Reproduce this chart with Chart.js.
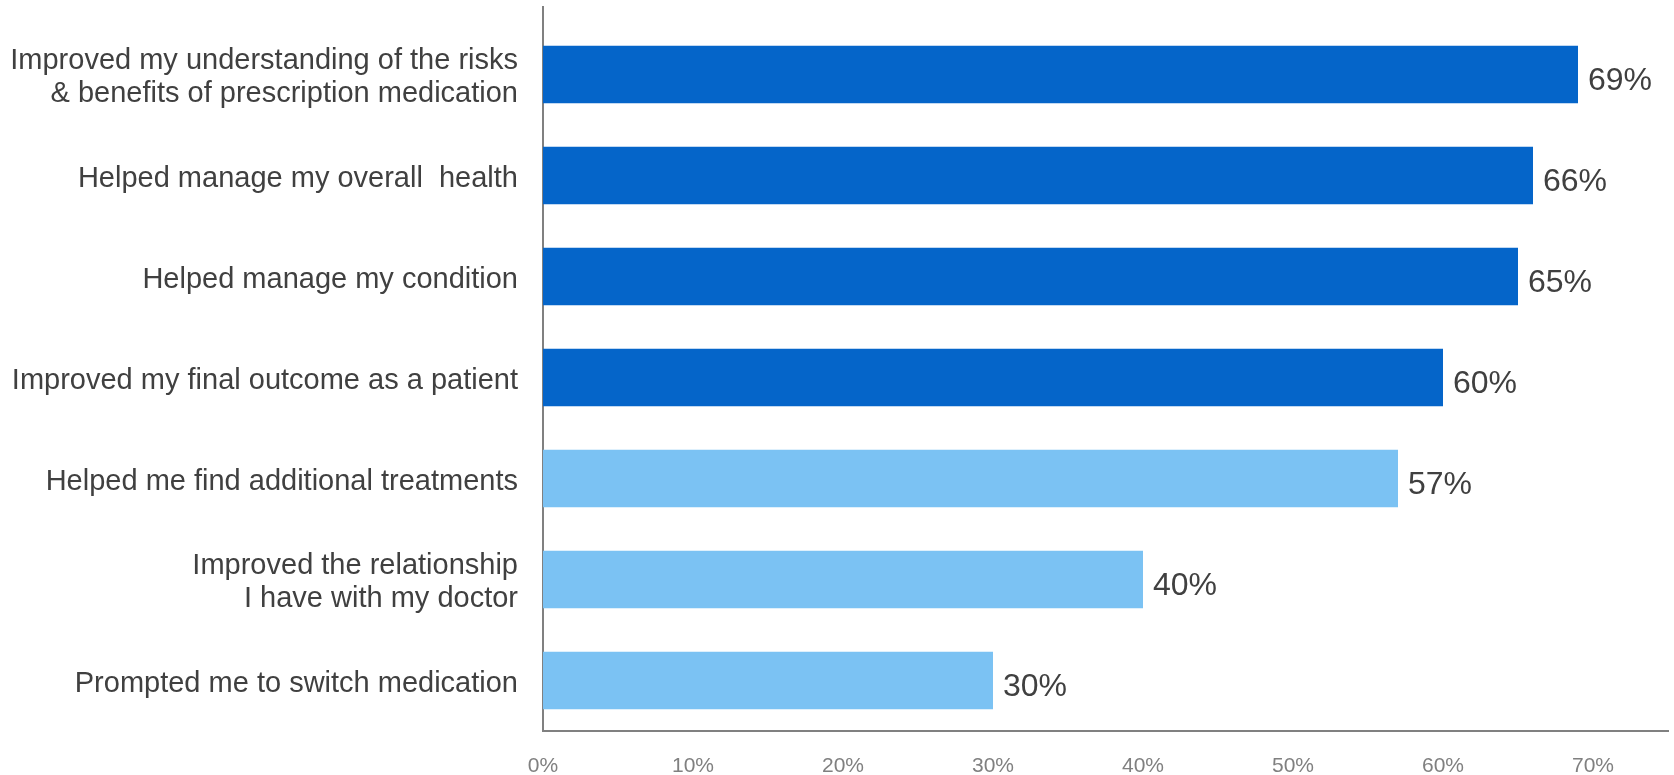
<!DOCTYPE html>
<html>
<head>
<meta charset="utf-8">
<script src="https://cdn.jsdelivr.net/npm/chart.js@4"></script>
<style>
  html, body { margin: 0; padding: 0; background: #ffffff; }
  #wrap { width: 1674px; height: 775px; position: relative; }
</style>
</head>
<body>
<div id="wrap"><canvas id="c"></canvas></div>
<script>
const categories = [
  ["Improved my understanding of the risks", "& benefits of prescription medication"],
  "Helped manage my overall  health",
  "Helped manage my condition",
  "Improved my final outcome as a patient",
  "Helped me find additional treatments",
  ["Improved the relationship", "I have with my doctor"],
  "Prompted me to switch medication"
];
const values = [69, 66, 65, 60, 57, 40, 30];
const barColors = ["#0565C9", "#0565C9", "#0565C9", "#0565C9", "#7BC2F3", "#7BC2F3", "#7BC2F3"];
const tickValues = [0, 10, 20, 30, 40, 50, 60, 70];

const valueLabels = {
  id: 'valueLabels',
  afterDatasetsDraw(chart) {
    const ctx = chart.ctx;
    const meta = chart.getDatasetMeta(0);
    ctx.save();
    ctx.font = '32px "Liberation Sans", Arial, sans-serif';
    ctx.fillStyle = '#404040';
    ctx.textAlign = 'left';
    ctx.textBaseline = 'middle';
    meta.data.forEach((bar, i) => {
      ctx.fillText(values[i] + '%', bar.x + 10, bar.y + 7);
    });
    ctx.restore();
  }
};

const axisExtension = {
  id: 'axisExtension',
  afterDraw(chart) {
    const ctx = chart.ctx;
    const a = chart.chartArea;
    ctx.save();
    ctx.strokeStyle = '#808080';
    ctx.lineWidth = 2;
    ctx.beginPath();
    ctx.moveTo(a.left, 6);
    ctx.lineTo(a.left, a.top);
    ctx.stroke();
    ctx.restore();
  }
};

new Chart(document.getElementById('c'), {
  type: 'bar',
  data: {
    labels: categories,
    datasets: [{
      data: values,
      backgroundColor: barColors,
      borderWidth: 0,
      barPercentage: 0.57,
      categoryPercentage: 1.0
    }]
  },
  options: {
    indexAxis: 'y',
    responsive: true,
    maintainAspectRatio: false,
    animation: false,
    layout: { padding: { top: 24, right: 6, left: 0, bottom: 0 } },
    plugins: {
      legend: { display: false },
      tooltip: { enabled: false }
    },
    scales: {
      x: {
        min: 0,
        max: 75,
        grid: { display: false, drawTicks: false },
        border: { display: true, color: '#808080', width: 2 },
        afterBuildTicks(scale) {
          scale.ticks = tickValues.map(v => ({ value: v }));
        },
        ticks: {
          stepSize: 10,
          padding: 25,
          color: '#808080',
          font: { family: '"Liberation Sans", Arial, sans-serif', size: 21, lineHeight: 1 },
          callback: v => v + '%',
          maxRotation: 0
        },
        afterFit(scale) {
          scale.height = 44;
          scale.paddingLeft = 0; scale.paddingRight = 0;
          scale.paddingTop = 0; scale.paddingBottom = 0;
        }
      },
      y: {
        grid: { display: false, drawTicks: false },
        border: { display: true, color: '#808080', width: 2 },
        ticks: {
          padding: 25,
          color: '#404040',
          font: { family: '"Liberation Sans", Arial, sans-serif', size: 29, lineHeight: 1.17 }
        },
        afterFit(scale) {
          scale.width = 543;
          scale.paddingTop = 0; scale.paddingBottom = 0;
          scale.paddingLeft = 0; scale.paddingRight = 0;
        },
        afterUpdate(scale) {
          if (!scale.__shifted) {
            const orig = scale._computeLabelItems;
            scale._computeLabelItems = function (ca) {
              const items = orig.call(this, ca);
              items.forEach(it => {
                if (it.options && it.options.translation) it.options.translation[1] += 3;
              });
              return items;
            };
            scale.__shifted = true;
          }
        }
      }
    }
  },
  plugins: [valueLabels, axisExtension]
});
</script>
</body>
</html>
